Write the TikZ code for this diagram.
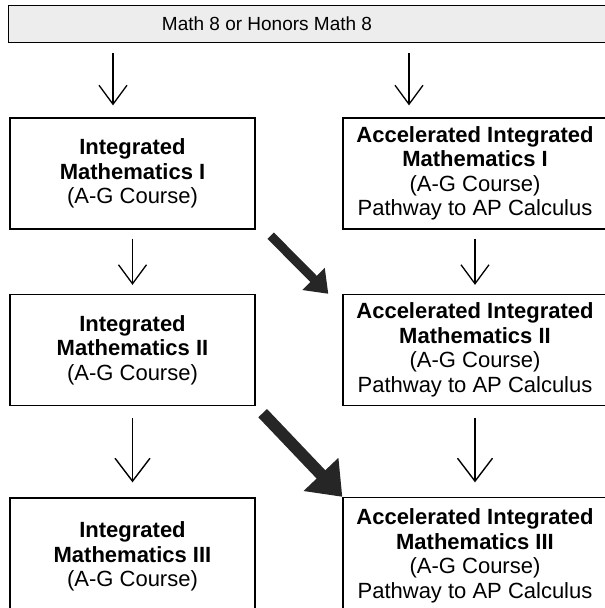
\documentclass[tikz,border=0pt]{standalone}
\usepackage{fontspec}
\setmainfont{Liberation Sans}
\usetikzlibrary{arrows.meta}
\begin{document}
\begin{tikzpicture}[x=1pt,y=-1pt,
    corso/.style={draw,line width=1.3pt,align=center,inner sep=0pt,
      font=\fontsize{22}{24.5}\selectfont},
    sinistra/.style={corso,minimum width=245pt,minimum height=111pt},
    destra/.style={corso,minimum width=264pt,minimum height=111pt},
    freccia/.style={line width=1.3pt,-{Straight Barb[length=19pt,width=28pt]}},
    frecciagrande/.style={line width=1.4pt,-{Straight Barb[length=23pt,width=35pt]}},
    salto/.style={draw=black!85,line width=9pt,-{Triangle[length=21pt,width=30pt]}},
    saltogrande/.style={draw=black!85,line width=12pt,-{Triangle[length=31pt,width=46pt]}}]
  \useasboundingbox (0,0) rectangle (605,608);
  \clip (0,0) rectangle (605,608);

  % Punto di partenza
  \node[draw,fill=black!7,line width=1.3pt,anchor=north west,inner sep=0pt,
    minimum width=607pt,minimum height=37pt] (base) at (8,5) {};
  \node[font=\fontsize{19}{22}\selectfont] (titolo) at (267,24) {Math 8 or Honors Math 8};

  % Percorso normale
  \node[sinistra] (int1) at (132.5,173.5) {\textbf{Integrated}\\\textbf{Mathematics I}\\(A-G Course)};
  \node[sinistra] (int2) at (132.5,350) {\textbf{Integrated}\\\textbf{Mathematics II}\\(A-G Course)};
  \node[sinistra,minimum height=117pt] (int3) at (132.5,556.5) {\textbf{Integrated}\\\textbf{Mathematics III}\\(A-G Course)};

  % Percorso accelerato
  \node[destra] (acc1) at (475,173.5) {\textbf{Accelerated Integrated}\\\textbf{Mathematics I}\\(A-G Course)\\Pathway to AP Calculus};
  \node[destra] (acc2) at (475,350) {\textbf{Accelerated Integrated}\\\textbf{Mathematics II}\\(A-G Course)\\Pathway to AP Calculus};
  \node[destra,minimum height=117pt] (acc3) at (475,556) {\textbf{Accelerated Integrated}\\\textbf{Mathematics III}\\(A-G Course)\\Pathway to AP Calculus};

  % Frecce verticali
  \draw[freccia,shorten <=10pt,shorten >=12pt] ([xshift=-19.5pt]int1.north |- base.south) -- ([xshift=-19.5pt]int1.north);
  \draw[freccia,shorten <=10pt,shorten >=12pt] ([xshift=-66pt]acc1.north |- base.south) -- ([xshift=-66pt]acc1.north);
  \draw[freccia,shorten <=9pt,shorten >=9pt] (int1.south) -- (int2.north);
  \draw[freccia,shorten <=9pt,shorten >=9pt] (acc1.south) -- (acc2.north);
  \draw[frecciagrande,shorten <=12pt,shorten >=15pt] (int2.south) -- (int3.north);
  \draw[frecciagrande,shorten <=12pt,shorten >=14.5pt] (acc2.south) -- (acc3.north);

  % Passaggi al percorso accelerato
  \draw[salto] ([shift={(15,6)}]int1.south east) -- ([shift={(-14,0)}]acc2.north west);
  \draw[saltogrande] ([shift={(7,7)}]int2.south east) -- (acc3.north west);
\end{tikzpicture}
\end{document}
